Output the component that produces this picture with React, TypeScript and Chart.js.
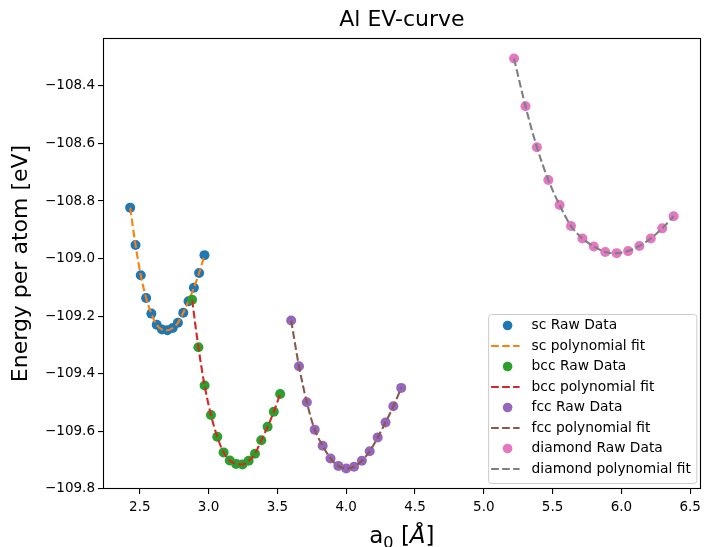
import React, { useEffect, useRef } from "react";
import { Chart, registerables } from "chart.js";

Chart.register(...registerables);

// ---- data (lattice parameter a0 [Å], energy per atom [eV]) ----
const scA = [2.43, 2.469, 2.507, 2.546, 2.584, 2.623, 2.661, 2.7, 2.739, 2.777, 2.816, 2.854, 2.893, 2.931, 2.97];
const scE = [-108.823, -108.953, -109.058, -109.137, -109.191, -109.23, -109.246, -109.249, -109.241, -109.223, -109.188, -109.148, -109.101, -109.05, -108.988];

const bccA = [2.88, 2.926, 2.971, 3.017, 3.063, 3.109, 3.154, 3.2, 3.246, 3.291, 3.337, 3.383, 3.429, 3.474, 3.52];
const bccE = [-109.143, -109.308, -109.441, -109.543, -109.619, -109.673, -109.701, -109.713, -109.715, -109.702, -109.678, -109.631, -109.584, -109.532, -109.47];

const fccA = [3.6, 3.657, 3.714, 3.771, 3.829, 3.886, 3.943, 4.0, 4.057, 4.114, 4.171, 4.229, 4.286, 4.343, 4.4];
const fccE = [-109.215, -109.374, -109.499, -109.594, -109.65, -109.694, -109.72, -109.729, -109.723, -109.702, -109.669, -109.621, -109.569, -109.513, -109.449];

const diaA = [5.22, 5.303, 5.386, 5.469, 5.551, 5.634, 5.717, 5.8, 5.883, 5.966, 6.049, 6.131, 6.214, 6.297, 6.38];
const diaE = [-108.305, -108.471, -108.613, -108.727, -108.814, -108.887, -108.93, -108.958, -108.977, -108.981, -108.974, -108.956, -108.93, -108.895, -108.853];

const structures = ["sc", "bcc", "fcc", "diamond"];
const xTicks = [2.5, 3.0, 3.5, 4.0, 4.5, 5.0, 5.5, 6.0, 6.5];
const yTicks = [-109.8, -109.6, -109.4, -109.2, -109.0, -108.8, -108.6, -108.4];

const titleText = "Al EV-curve";
const yLabel = "Energy per atom [eV]";

const rawColors = ["#1f77b4", "#2ca02c", "#9467bd", "#e377c2"];
const fitColors = ["#ff7f0e", "#d62728", "#8c564b", "#7f7f7f"];

const FONT = "'DejaVu Sans', sans-serif";
const DASH = [7.7, 3.3];

const allA = [scA, bccA, fccA, diaA];
const allE = [scE, bccE, fccE, diaE];

function pts(a: number[], e: number[]) {
  return a.map((x, i) => ({ x, y: e[i] }));
}
function limits(vals: number[]) {
  const lo = Math.min(...vals);
  const hi = Math.max(...vals);
  const m = (hi - lo) * 0.05;
  return [lo - m, hi + m];
}
function fmt(v: number) {
  return Number(v).toFixed(1).replace("-", "\u2212");
}

const frameAndLegend = {
  id: "frameAndLegend",
  afterDatasetsDraw(chart: any) {
    const { ctx, chartArea } = chart;
    ctx.save();
    // axes frame
    ctx.strokeStyle = "#000";
    ctx.lineWidth = 1.1;
    ctx.setLineDash([]);
    ctx.strokeRect(
      Math.round(chartArea.left) + 0.5,
      Math.round(chartArea.top) + 0.5,
      Math.round(chartArea.right - chartArea.left) - 1,
      Math.round(chartArea.bottom - chartArea.top) - 1
    );

    // legend
    const fs = 13.8;
    ctx.font = `${fs}px ${FONT}`;
    const ds = chart.data.datasets;
    const textW = Math.max(...ds.map((d: any) => ctx.measureText(d.label).width));
    const pitch = 20.5;
    const W = 43 + textW + 6;
    const H = 169;
    const right = chartArea.right - 4;
    const bottom = chartArea.bottom - 5.5;
    const left = right - W;
    const top = bottom - H;
    ctx.beginPath();
    if (ctx.roundRect) ctx.roundRect(left, top, W, H, 3);
    else ctx.rect(left, top, W, H);
    ctx.fillStyle = "rgba(255,255,255,0.8)";
    ctx.fill();
    ctx.strokeStyle = "#cccccc";
    ctx.lineWidth = 1;
    ctx.stroke();

    ds.forEach((d: any, i: number) => {
      const cy = top + 11 + i * pitch;
      if (d.isFit) {
        ctx.beginPath();
        ctx.setLineDash(DASH);
        ctx.strokeStyle = d.borderColor;
        ctx.lineWidth = 2.1;
        ctx.moveTo(left + 2.5, cy);
        ctx.lineTo(left + 31, cy);
        ctx.stroke();
        ctx.setLineDash([]);
      } else {
        ctx.beginPath();
        ctx.fillStyle = d.backgroundColor;
        ctx.arc(left + 19, cy, 4.8, 0, Math.PI * 2);
        ctx.fill();
      }
      ctx.fillStyle = "#000";
      ctx.textAlign = "left";
      ctx.textBaseline = "middle";
      ctx.font = `${fs}px ${FONT}`;
      ctx.fillText(d.label, left + 43, cy);
    });
    ctx.restore();
  },
};

const xTitle = {
  id: "xTitle",
  afterDraw(chart: any) {
    const { ctx, chartArea } = chart;
    const size = 23;
    const parts = [
      { t: "a", font: `${size}px ${FONT}`, dy: 0 },
      { t: "0", font: `${size * 0.7}px ${FONT}`, dy: size * 0.2 },
      { t: " [", font: `${size}px ${FONT}`, dy: 0 },
      { t: "\u00C5", font: `italic ${size}px ${FONT}`, dy: 0 },
      { t: "]", font: `${size}px ${FONT}`, dy: 0 },
    ];
    ctx.save();
    let total = 0;
    const widths = parts.map((p) => {
      ctx.font = p.font;
      const w = ctx.measureText(p.t).width;
      total += w;
      return w;
    });
    let x = (chartArea.left + chartArea.right) / 2 - total / 2;
    const base = 543;
    ctx.fillStyle = "#000";
    ctx.textAlign = "left";
    ctx.textBaseline = "alphabetic";
    parts.forEach((p, i) => {
      ctx.font = p.font;
      ctx.fillText(p.t, x, base + p.dy);
      x += widths[i];
    });
    ctx.restore();
  },
};

export default function App() {
  const ref = useRef<HTMLCanvasElement | null>(null);

  useEffect(() => {
    if (!ref.current) return;
    const datasets: any[] = [];
    structures.forEach((name, k) => {
      const data = pts(allA[k], allE[k]);
      datasets.push({
        type: "scatter",
        label: `${name} Raw Data`,
        data,
        backgroundColor: rawColors[k],
        borderColor: rawColors[k],
        borderWidth: 0,
        pointRadius: 5,
        pointHoverRadius: 5,
        order: 20 - 2 * k,
        isFit: false,
      });
      datasets.push({
        type: "line",
        label: `${name} polynomial fit`,
        data,
        borderColor: fitColors[k],
        backgroundColor: fitColors[k],
        borderWidth: 2.1,
        borderDash: DASH,
        pointRadius: 0,
        fill: false,
        showLine: true,
        cubicInterpolationMode: "monotone",
        order: 19 - 2 * k,
        isFit: true,
      });
    });

    const [xmin, xmax] = limits(allA.flat());
    const [ymin, ymax] = limits(allE.flat());

    const tickFont = { family: FONT, size: 13.5 };
    const chart = new Chart(ref.current, {
      type: "scatter",
      data: { datasets },
      options: {
        animation: false,
        responsive: false,
        devicePixelRatio: 1,
        layout: { padding: { left: 0, right: 1, top: 0, bottom: 0 } },
        plugins: {
          legend: { display: false },
          tooltip: { enabled: false },
          title: {
            display: true,
            text: titleText,
            fullSize: false,
            color: "#000",
            font: { family: FONT, size: 22, weight: "normal" },
            padding: { top: 7, bottom: 4.6 },
          },
        },
        scales: {
          x: {
            type: "linear",
            min: xmin,
            max: xmax,
            afterFit: (s: any) => {
              s.height = 58;
            },
            afterBuildTicks: (s: any) => {
              s.ticks = xTicks.map((v) => ({ value: v }));
            },
            ticks: {
              autoSkip: false,
              maxRotation: 0,
              color: "#000",
              font: tickFont,
              padding: 5,
              callback: (v: any) => fmt(v),
            },
            grid: {
              display: true,
              drawOnChartArea: false,
              drawTicks: true,
              tickLength: 5,
              color: "#000",
              lineWidth: 1.1,
            },
            border: { display: false },
          },
          y: {
            type: "linear",
            min: ymin,
            max: ymax,
            afterFit: (s: any) => {
              s.width = 103;
            },
            afterBuildTicks: (s: any) => {
              s.ticks = yTicks.map((v) => ({ value: v }));
            },
            ticks: {
              autoSkip: false,
              color: "#000",
              font: tickFont,
              padding: 3,
              callback: (v: any) => fmt(v),
            },
            grid: {
              display: true,
              drawOnChartArea: false,
              drawTicks: true,
              tickLength: 5,
              color: "#000",
              lineWidth: 1.1,
            },
            border: { display: false },
            title: {
              display: true,
              text: yLabel,
              color: "#000",
              font: { family: FONT, size: 22 },
              padding: { top: 8, bottom: 0 },
            },
          },
        },
      } as any,
      plugins: [frameAndLegend, xTitle],
    });
    return () => chart.destroy();
  }, []);

  return (
    <div style={{ position: "fixed", left: 0, top: 0, width: 706, height: 547, background: "#fff" }}>
      <canvas ref={ref} width={706} height={547} style={{ display: "block" }} />
    </div>
  );
}
